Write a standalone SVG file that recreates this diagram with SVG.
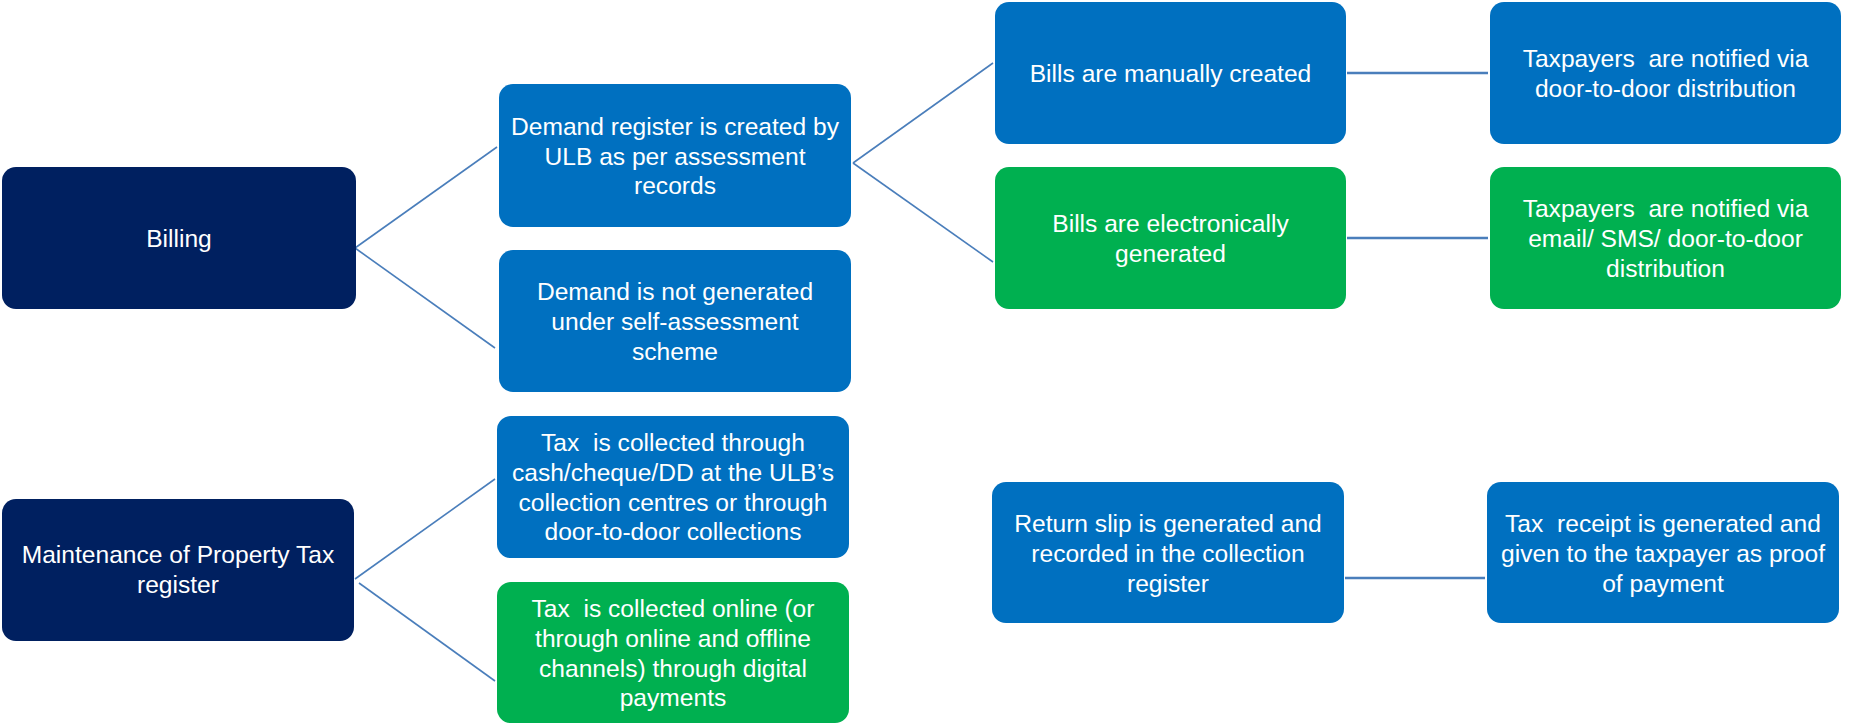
<svg xmlns="http://www.w3.org/2000/svg" width="1850" height="727" viewBox="0 0 1850 727">
<style>
.box{stroke:none}
.navy{fill:#002060}
.blue{fill:#0070c0}
.green{fill:#00b050}
.t{font-family:"Liberation Sans",Arial,sans-serif;font-size:24.6px;fill:#ffffff;text-anchor:middle;white-space:pre}
.c{stroke:#4a7ebb;fill:none}
.d{stroke-width:1.6}
.h{stroke-width:2.4}
</style>
<rect width="1850" height="727" fill="#ffffff"/>
<g id="connectors">
<line class="c d" x1="355" y1="248" x2="497" y2="147"/>
<line class="c d" x1="355" y1="248" x2="495" y2="348"/>
<line class="c d" x1="853" y1="163" x2="993" y2="63"/>
<line class="c d" x1="853" y1="163" x2="993" y2="262"/>
<line class="c h" x1="1347" y1="73" x2="1488" y2="73"/>
<line class="c h" x1="1347" y1="238" x2="1488" y2="238"/>
<line class="c d" x1="355" y1="579" x2="495" y2="479"/>
<line class="c d" x1="359" y1="583" x2="495" y2="681"/>
<line class="c h" x1="1345" y1="578" x2="1485" y2="578"/>
</g>
<g id="billing">
<rect class="box navy" x="2" y="167" width="354" height="142" rx="14"/>
<text class="t" x="179" y="247">Billing</text>
</g>
<g id="demand-register">
<rect class="box blue" x="499" y="84" width="352" height="143" rx="14"/>
<text class="t" x="675" y="135">Demand register is created by</text>
<text class="t" x="675" y="165">ULB as per assessment</text>
<text class="t" x="675" y="194">records</text>
</g>
<g id="demand-not-generated">
<rect class="box blue" x="499" y="250" width="352" height="142" rx="14"/>
<text class="t" x="675" y="300">Demand is not generated</text>
<text class="t" x="675" y="330">under self-assessment</text>
<text class="t" x="675" y="360">scheme</text>
</g>
<g id="bills-manual">
<rect class="box blue" x="995" y="2" width="351" height="142" rx="14"/>
<text class="t" x="1170.5" y="82">Bills are manually created</text>
</g>
<g id="bills-electronic">
<rect class="box green" x="995" y="167" width="351" height="142" rx="14"/>
<text class="t" x="1170.5" y="232">Bills are electronically</text>
<text class="t" x="1170.5" y="262">generated</text>
</g>
<g id="notify-door">
<rect class="box blue" x="1490" y="2" width="351" height="142" rx="14"/>
<text class="t" x="1665.5" y="67">Taxpayers  are notified via</text>
<text class="t" x="1665.5" y="97">door-to-door distribution</text>
</g>
<g id="notify-email">
<rect class="box green" x="1490" y="167" width="351" height="142" rx="14"/>
<text class="t" x="1665.5" y="217">Taxpayers  are notified via</text>
<text class="t" x="1665.5" y="247">email/ SMS/ door-to-door</text>
<text class="t" x="1665.5" y="277">distribution</text>
</g>
<g id="maintenance">
<rect class="box navy" x="2" y="499" width="352" height="142" rx="14"/>
<text class="t" x="178" y="563">Maintenance of Property Tax</text>
<text class="t" x="178" y="593">register</text>
</g>
<g id="tax-cash">
<rect class="box blue" x="497" y="416" width="352" height="142" rx="14"/>
<text class="t" x="673" y="451">Tax  is collected through</text>
<text class="t" x="673" y="481">cash/cheque/DD at the ULB’s</text>
<text class="t" x="673" y="511">collection centres or through</text>
<text class="t" x="673" y="540">door-to-door collections</text>
</g>
<g id="tax-online">
<rect class="box green" x="497" y="582" width="352" height="141" rx="14"/>
<text class="t" x="673" y="617">Tax  is collected online (or</text>
<text class="t" x="673" y="647">through online and offline</text>
<text class="t" x="673" y="677">channels) through digital</text>
<text class="t" x="673" y="706">payments</text>
</g>
<g id="return-slip">
<rect class="box blue" x="992" y="482" width="352" height="141" rx="14"/>
<text class="t" x="1168" y="532">Return slip is generated and</text>
<text class="t" x="1168" y="562">recorded in the collection</text>
<text class="t" x="1168" y="592">register</text>
</g>
<g id="tax-receipt">
<rect class="box blue" x="1487" y="482" width="352" height="141" rx="14"/>
<text class="t" x="1663" y="532">Tax  receipt is generated and</text>
<text class="t" x="1663" y="562">given to the taxpayer as proof</text>
<text class="t" x="1663" y="592">of payment</text>
</g>
</svg>
